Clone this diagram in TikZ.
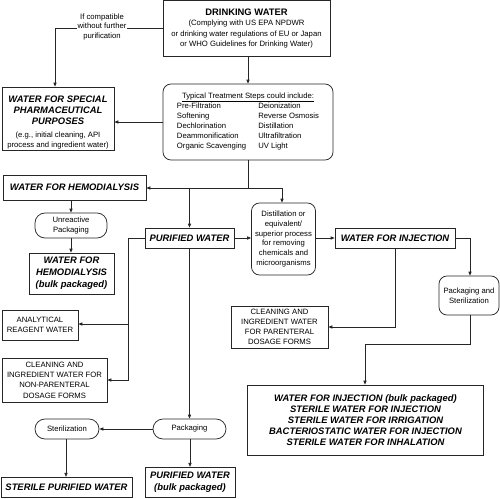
\documentclass[tikz,border=0pt]{standalone}
\usepackage{fontspec}
\setmainfont{Liberation Sans}
\usetikzlibrary{arrows.meta}
\newcommand\fbi{\fontsize{9.4}{11}\selectfont\bfseries\itshape}
\newcommand\fbd{\fontsize{9.4}{11}\selectfont\bfseries}
\newcommand\fsm{\fontsize{7.7}{9.9}\selectfont}
\tikzset{
  box/.style={draw=black!85, line width=0.75pt, inner sep=0pt, align=center},
  rbox/.style={box, rounded corners=8pt},
  pill/.style={box, rounded corners=10pt},
  sm/.style={font=\fsm},
  bi/.style={font=\fbi},
  conn/.style={draw=black!85, line width=0.75pt},
  arr/.style={conn, -{Triangle[length=4pt,width=3.2pt]}},
}
\begin{document}
\begin{tikzpicture}[x=1pt,y=-1pt]
\useasboundingbox (0,0) rectangle (500,498);
% boxes
\node[box, sm, minimum width=167pt, minimum height=55.5pt] (dw) at (246.5,28.5)
  {{\fbd DRINKING WATER}\\[1pt]
   (Complying with US EPA NPDWR\\[0.6pt]
   or drinking water regulations of EU or Japan\\[0.6pt]
   or WHO Guidelines for Drinking Water)};
\node[rbox, sm, minimum width=170pt, minimum height=76pt] (treat) at (248,122)
  {\underline{Typical Treatment Steps could include:}\\[-1pt]
   \begin{tabular}{@{}l@{\hspace{12pt}}l@{}}
   Pre-Filtration & Deionization\\
   Softening & Reverse Osmosis\\
   Dechlorination & Distillation\\
   Deammonification & Ultrafiltration\\
   Organic Scavenging & UV Light
   \end{tabular}};
\node[box, sm, minimum width=112pt, minimum height=63pt] (special) at (58,118.5)
  {\raisebox{-4.5pt}[\height][\depth]{\begin{tabular}{@{}c@{}}
   {\fbi WATER FOR SPECIAL}\\[1.1pt]
   {\fbi PHARMACEUTICAL}\\[1.1pt]
   {\fbi PURPOSES}\\[2.5pt]
   (e.g., initial cleaning, API\\
   process and ingredient water)
   \end{tabular}}};
\node[box, bi, minimum width=143pt, minimum height=25pt] (hemo) at (74.5,187.5)
  {WATER FOR HEMODIALYSIS};
\node[pill, sm, minimum width=72pt, minimum height=25pt] (unreact) at (71,225.5)
  {Unreactive\\Packaging};
\node[box, bi, minimum width=85pt, minimum height=41pt] (hemobulk) at (71.5,273.5)
  {WATER FOR\\[1pt]HEMODIALYSIS\\[1pt](bulk packaged)};
\node[box, bi, minimum width=89pt, minimum height=20pt] (pw) at (189.5,238)
  {PURIFIED WATER};
\node[rbox, sm, minimum width=64pt, minimum height=72pt] (dist) at (283.5,239)
  {Distillation or\\equivalent/\\superior process\\for removing\\chemicals and\\microorganisms};
\node[box, bi, minimum width=120pt, minimum height=20pt] (wfi) at (395,238)
  {WATER FOR INJECTION};
\node[rbox, sm, minimum width=60pt, minimum height=39pt] (pkst) at (469,295.5)
  {Packaging and\\Sterilization};
\node[box, sm, minimum width=97pt, minimum height=42pt] (cleanpar) at (279.5,327)
  {CLEANING AND\\INGREDIENT WATER\\FOR PARENTERAL\\DOSAGE FORMS};
\node[box, bi, minimum width=236pt, minimum height=70pt] (big) at (365.5,420)
  {WATER FOR INJECTION (bulk packaged)\\
   STERILE WATER FOR INJECTION\\
   STERILE WATER FOR IRRIGATION\\
   BACTERIOSTATIC WATER FOR INJECTION\\
   STERILE WATER FOR INHALATION};
\node[box, sm, minimum width=76pt, minimum height=30pt] (arw) at (40,325)
  {ANALYTICAL\\REAGENT WATER};
\node[box, sm, minimum width=105pt, minimum height=44pt] (cleannp) at (54.5,380)
  {CLEANING AND\\[0.4pt]INGREDIENT WATER FOR\\[0.4pt]NON-PARENTERAL\\[0.4pt]DOSAGE FORMS};
\node[pill, sm, minimum width=73pt, minimum height=20pt] (pack) at (189.5,429)
  {Packaging};
\node[pill, sm, minimum width=64pt, minimum height=20pt] (steril) at (67,429)
  {Sterilization};
\node[box, bi, minimum width=131pt, minimum height=20.5pt] (spw) at (66.5,487.5)
  {STERILE PURIFIED WATER};
\node[box, bi, minimum width=90pt, minimum height=30.5pt] (pwbulk) at (190,482.5)
  {PURIFIED WATER\\[1pt](bulk packaged)};
% junctions
\coordinate (jtop) at (248,188);
\coordinate (jleft) at (128,238);
\coordinate (jright) at (470,344);
% connectors
\draw[arr] (dw.south -| treat.north) -- (treat.north);
\draw[arr] (dw.west |- 0,28) -| (special.north -| 55,0);
\node[fill=white, sm, inner sep=1pt, align=center] (cond) at (102,27)
  {If compatible\\without further\\purification};
\draw[arr] (treat.west) -- (special.east |- treat.west);
\draw[conn] (treat.south) -- (jtop);
\draw[arr] (jtop) -- (hemo.east |- jtop);
\draw[arr] (jtop) -| (282,0 |- dist.north);
\draw[arr] (pw.north |- jtop) -- (pw.north);
\draw[arr] (unreact.north |- hemo.south) -- (unreact.north);
\draw[arr] (unreact.south) -- (unreact.south |- hemobulk.north);
\draw[arr] (pw.east) -- (dist.west |- pw.east);
\draw[arr] (dist.east |- wfi.west) -- (wfi.west);
\draw[arr] (wfi.east) -| (pkst.north -| jright);
\draw[arr] (wfi.south) |- (cleanpar.east);
\draw[arr] (pkst.south -| jright) -- (jright) -| (big.north -| 365,0);
\draw[conn] (pw.west) -- (jleft);
\draw[arr] (jleft) |- (cleannp.east |- 0,380);
\draw[arr] (jleft |- 0,324) -- (arw.east |- 0,324);
\draw[arr] (pw.south) -- (pack.north);
\draw[arr] (pack.west) -- (steril.east);
\draw[arr] (steril.south -| 66,0) -- (spw.north -| 66,0);
\draw[arr] (pack.south -| 190,0) -- (pwbulk.north -| 190,0);
\end{tikzpicture}
\end{document}
